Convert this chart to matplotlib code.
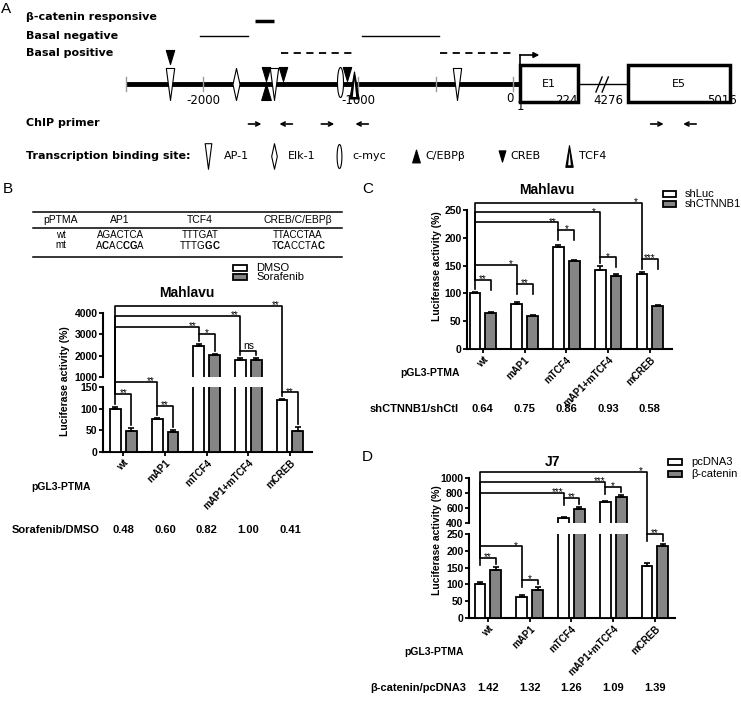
import numpy as np
import matplotlib.pyplot as plt
from matplotlib.path import Path
from matplotlib.patches import Rectangle

plt.rcParams['font.family'] = ['Liberation Sans', 'DejaVu Sans']
plt.rcParams['mathtext.fontset'] = 'custom'
plt.rcParams['mathtext.rm'] = 'Liberation Sans'
plt.rcParams['mathtext.bf'] = 'Liberation Sans:bold'

W, H = 741, 703
GREY = '#858585'

# ---------------- panel A: PTMA promoter map (bp) ----------------
promoter = (-2500, 0)
scale_ticks = [-2500, -2000, -1000, -500, 0]
scale_labels = ['-2000', '-1000']
scale_label_pos = [-2000, -1000]
beta_resp = [(-1665, -1545)]
basal_neg = [(-2020, -1710), (-975, -480)]
basal_pos = [(-1495, -1030), (-470, 0)]
# (factor, position, stacked above another site)
sites = [('AP-1', -2213, 0), ('CREB', -2213, 1), ('Elk-1', -1787, 0),
         ('CREB', -1594, 0), ('C/EBPβ', -1594, 0), ('AP-1', -1542, 0),
         ('CREB', -1484, 0), ('c-myc', -1116, 0), ('CREB', -1071, 0),
         ('TCF4', -1026, 0), ('AP-1', -361, 0)]
# exons are drawn schematically (not to scale) after the TSS
exons = [('E1', 45, 420, '1', '224'), ('E5', 745, 1400, '4276', '5016')]
primers = [(-1665, 1), (-1465, -1), (-1195, 1), (-975, -1), (930, 1), (1140, -1)]
legend_sites = ['AP-1', 'Elk-1', 'c-myc', 'C/EBPβ', 'CREB', 'TCF4']

# ---------------- panels B-D: luciferase assays ----------------
groups = ['wt', 'mAP1', 'mTCF4', 'mAP1+mTCF4', 'mCREB']

b_dmso = [100, 76, 2450, 1780, 120]
b_sora = [48, 46, 2010, 1780, 49]
b_dmso_err = [5, 2, 110, 130, 2]
b_sora_err = [7, 4, 60, 90, 8]
b_ratio = ['0.48', '0.60', '0.82', '1.00', '0.41']
b_pair_level = [134, 106, 3020, 2220, 138]
b_pair_sig = ['**', '**', '*', 'ns', '**']
b_cmp_level = [162, 3350, 3860, 4333]
b_cmp_sig = ['**', '**', '**', '**']

c_shluc = [100, 81, 184, 142, 134]
c_shct = [64, 60, 158, 132, 78]
c_shluc_err = [3, 3, 3, 7, 4]
c_shct_err = [2, 1, 2, 2, 1]
c_ratio = ['0.64', '0.75', '0.86', '0.93', '0.58']
c_pair_level = [124, 117, 214, 165, 162]
c_pair_sig = ['**', '**', '*', '*', '***']
c_cmp_level = [151, 228, 246, 263]
c_cmp_sig = ['*', '**', '*', '*']

d_pc = [100, 63, 470, 680, 155]
d_bcat = [142, 83, 592, 742, 215]
d_pc_err = [6, 5, 5, 10, 8]
d_bcat_err = [10, 8, 15, 25, 6]
d_ratio = ['1.42', '1.32', '1.26', '1.09', '1.39']
d_pair_level = [179, 113, 733, 880, 250]
d_pair_sig = ['**', '*', '**', '*', '**']
d_cmp_level = [214, 800, 947, 1080]
d_cmp_sig = ['*', '***', '***', '*']

fig = plt.figure(figsize=(W / 100, H / 100), dpi=100)

# overlay in pixel units (y down) for texts, brackets and legends
ov = fig.add_axes([0, 0, 1, 1])
ov.set_xlim(0, W)
ov.set_ylim(H, 0)
ov.axis('off')
ov.set_zorder(10)


def px_axes(x0, x1, y0, y1):
    return fig.add_axes([x0 / W, 1 - y1 / H, (x1 - x0) / W, (y1 - y0) / H])


def tri(w, up):
    v = [(-w, -0.5), (w, -0.5), (0, 0.5)] if up else [(-w, 0.5), (w, 0.5), (0, -0.5)]
    return Path(v + [v[0]], closed=True)


t = np.linspace(0, 2 * np.pi, 40)
SYM = {
    'AP-1': (tri(0.13, False), 32, 'white'),
    'Elk-1': (Path([(0, 0.5), (0.11, 0), (0, -0.5), (-0.11, 0), (0, 0.5)], closed=True), 32, 'white'),
    'c-myc': (Path(np.column_stack([0.1 * np.cos(t), 0.5 * np.sin(t)]), closed=True), 30, 'white'),
    'C/EBPβ': (tri(0.3, True), 16, 'black'),
    'CREB': (tri(0.3, False), 14, 'black'),
    'TCF4': (tri(0.17, True), 27, 'black'),
}
SITE_Y = {'AP-1': 84, 'Elk-1': 84, 'c-myc': 82, 'C/EBPβ': 92, 'CREB': 74, 'TCF4': 85}


def symbol(ax, x, y, name, scale=1.0):
    path, h, fc = SYM[name]
    ax.plot([x], [y], ls='none', marker=path, ms=h * 0.72 * scale, mfc=fc,
            mec='black', mew=0.8, zorder=4)
    if name == 'TCF4':
        ax.plot([x], [y + 3 * scale], ls='none', marker=tri(0.1, True),
                ms=h * 0.45 * scale, mfc='white', mec='none', zorder=5)


# ---------------- panel A ----------------
PX0, PPB = 513, 0.155
axA = px_axes(0, W, 0, 175)
axA.set_xlim(-PX0 / PPB, (W - PX0) / PPB)
axA.set_ylim(175, 0)
axA.axis('off')
LY = 84
axA.plot([promoter[0], exons[0][1]], [LY, LY], color='black', lw=3.5,
         solid_capstyle='butt', zorder=1)
for tk in scale_ticks:
    axA.plot([tk, tk], [LY - 7, LY + 7], color='#9a9a9a', lw=1, zorder=2)
for p, lab in zip(scale_label_pos, scale_labels):
    axA.text(p, 100, lab, ha='center', va='center', fontsize=8.5, family='DejaVu Sans')
axA.text(-20, 98, '0', ha='center', va='center', fontsize=8.5, family='DejaVu Sans')

axA.plot([exons[0][2], exons[1][1]], [LY, LY], color='black', lw=1, zorder=1)
for name, x0, x1, l0, l1 in exons:
    axA.add_patch(Rectangle((x0, 65), x1 - x0, 37, fc='white', ec='black', lw=2.5, zorder=3))
    axA.text((x0 + x1) / 2, LY, name, ha='center', va='center', fontsize=8, family='DejaVu Sans', zorder=4)
axA.text(exons[0][1], 106, exons[0][3], ha='center', va='center', fontsize=8.5, family='DejaVu Sans')
axA.text(exons[0][2], 100, exons[0][4], ha='right', va='center', fontsize=8.5, family='DejaVu Sans')
axA.text(exons[1][1] - 30, 100, exons[1][3], ha='right', va='center', fontsize=8.5, family='DejaVu Sans')
axA.text(exons[1][2] + 45, 100, exons[1][4], ha='right', va='center', fontsize=8.5, family='DejaVu Sans')
for bx in (535, 575):
    axA.plot([bx, bx + 40], [92, 77], color='black', lw=1, zorder=5)
# transcription start arrow
e1 = exons[0][1]
axA.plot([e1, e1], [65, 55], color='black', lw=1.2)
axA.annotate('', xy=(e1 + 125, 55), xytext=(e1, 55),
             arrowprops=dict(arrowstyle='-|>', lw=1.2, color='black', shrinkA=0, shrinkB=0,
                             mutation_scale=8))

for a, b in beta_resp:
    axA.plot([a, b], [21, 21], color='black', lw=2.5, solid_capstyle='butt')
for a, b in basal_neg:
    axA.plot([a, b], [36, 36], color='black', lw=1)
for a, b in basal_pos:
    axA.plot([a, b], [53, 53], color='black', lw=1.3, dashes=(4, 3))

for name, pos, row in sites:
    symbol(axA, pos, 57 if row else SITE_Y[name], name)

L = 13 / PPB
for pos, d in primers:
    axA.annotate('', xy=(pos + d * L / 2, 124), xytext=(pos - d * L / 2, 124),
                 arrowprops=dict(arrowstyle='->', lw=1.2, color='black', shrinkA=0,
                                 shrinkB=0, mutation_scale=7))

fa = dict(fontsize=8, fontweight='bold', family='DejaVu Sans', va='center')
ov.text(1, 9, 'A', fontsize=11, va='center')
ov.text(26, 17, 'β-catenin responsive', **fa)
ov.text(26, 36, 'Basal negative', **fa)
ov.text(26, 53, 'Basal positive', **fa)
ov.text(26, 123, 'ChIP primer', **fa)
ov.text(26, 156, 'Transcription binding site:', **fa)
for name, sx, tx in zip(legend_sites, [208, 274, 339, 416, 502, 569], [224, 288, 352, 425, 510, 579]):
    symbol(ov, sx, 156, name, 0.8)
    ov.text(tx, 156, name, fontsize=8, family='DejaVu Sans', va='center')

# ---------------- bar chart helpers ----------------
xg = np.arange(len(groups))
OFF, BW = 0.19, 0.26


def setup(ax, ylim, ticks, xlim, show_x):
    ax.set_xlim(*xlim)
    ax.set_ylim(*ylim)
    ax.set_yticks(ticks)
    ax.set_yticklabels([str(v) for v in ticks], fontweight='bold')
    ax.set_facecolor('none')
    for s in ('top', 'right'):
        ax.spines[s].set_visible(False)
    for s in ('left', 'bottom'):
        ax.spines[s].set_linewidth(1.5)
    ax.tick_params(width=1.3, length=3, labelsize=7.5, pad=1)
    if show_x:
        ax.set_xticks(xg)
        ax.set_xticklabels(groups, rotation=45, ha='right', rotation_mode='anchor',
                           fontweight='bold', fontsize=7)
    else:
        ax.spines['bottom'].set_visible(False)
        ax.set_xticks([])


def draw_bars(ax, a, b, ea, eb):
    ekw = dict(ecolor='black', elinewidth=1.2, capsize=2.5, capthick=1.2)
    z = np.zeros(len(a))
    ax.bar(xg - OFF, a, BW, color='white', edgecolor='black', linewidth=1.3,
           yerr=[z, ea], error_kw=ekw, zorder=3)
    ax.bar(xg + OFF, b, BW, color=GREY, edgecolor='black', linewidth=1.3,
           yerr=[z, eb], error_kw=ekw, zorder=3)


def to_px(ax, xv, yv):
    return ov.transData.inverted().transform(ax.transData.transform((xv, yv)))


def brackets(lo, hi, split, a, b, ea, eb, pl, ps, cl, cs, maxleg):
    def P(xv, yv):
        return to_px(hi if (hi is not None and yv >= split) else lo, xv, yv)

    for i in range(len(a)):
        xa, ya = P(i - OFF, pl[i])
        xb, _ = P(i + OFF, pl[i])
        ta = P(i - OFF, a[i] + ea[i])[1] - 3
        tb = P(i + OFF, b[i] + eb[i])[1] - 3
        la = ya + max(3, min(ta - ya, maxleg))
        lb = ya + max(3, min(tb - ya, maxleg))
        ov.plot([xa, xa, xb, xb], [la, ya, ya, lb], color='black', lw=1.2)
        if ps[i] == 'ns':
            ov.text((xa + xb) / 2, ya - 1.5, ps[i], ha='center', va='baseline', fontsize=7.5)
        else:
            ov.text((xa + xb) / 2, ya + 2.5, ps[i], ha='center', va='baseline', fontsize=7)
    x0, y0 = P(-OFF, pl[0])
    for j in range(1, len(a)):
        xj, yl = P(j - OFF, cl[j - 1])
        _, yj = P(j - OFF, pl[j])
        ov.plot([x0, x0, xj, xj], [y0, yl, yl, yj], color='black', lw=1.2)
        ov.text(xj - 6, yl + 2.5, cs[j - 1], ha='center', va='baseline', fontsize=7)


def legend(x, y0, dy, labels, w=14):
    for k, (lab, fc) in enumerate(zip(labels, ['white', GREY])):
        y = y0 + k * dy
        ov.add_patch(Rectangle((x, y - 3), w, 6, fc=fc, ec='black', lw=1.3))
        ov.text(x + w + 9, y, lab, fontsize=8, va='center')


def footer(ax, ycat, yratio, xlab, name, ratios):
    ov.text(xlab, ycat, 'pGL3-PTMA', ha='center', va='center', fontsize=7.5, fontweight='bold')
    ov.text(name[1], yratio, name[0], ha='left', va='center', fontsize=8, fontweight='bold')
    for i, r in enumerate(ratios):
        ov.text(to_px(ax, i, 0)[0], yratio, r, ha='center', va='center', fontsize=8,
                fontweight='bold')


# ---------------- panel B ----------------
ov.text(3, 189, 'B', fontsize=11, va='center')
cols = [61, 120, 200, 298]
for yy in (212, 228, 257):
    ov.plot([33, 342], [yy, yy], color='black', lw=1.1)
for cx, txt in zip(cols, ['pPTMA', 'AP1', 'TCF4', 'CREB/C/EBPβ']):
    ov.text(cx, 220, txt, ha='center', va='center', fontsize=7.5)
for cx, txt in zip(cols, ['wt', 'AGACTCA', 'TTTGAT', 'TTACCTAA']):
    ov.text(cx, 235, txt, ha='center', va='center', fontsize=7)
for cx, txt in zip(cols, ['mt', r'A$\mathbf{C}$AC$\mathbf{CG}$A', r'TTTG$\mathbf{GC}$',
                          r'T$\mathbf{C}$ACCTA$\mathbf{C}$']):
    ov.text(cx, 245, txt, ha='center', va='center', fontsize=7)

XL_B = (-0.49, 4.53)
bLo = px_axes(103, 312, 387, 452)
bHi = px_axes(103, 312, 313, 377)
setup(bLo, (0, 150), [0, 50, 100, 150], XL_B, True)
setup(bHi, (1000, 4000), [1000, 2000, 3000, 4000], XL_B, False)
for ax in (bLo, bHi):
    draw_bars(ax, b_dmso, b_sora, b_dmso_err, b_sora_err)
brackets(bLo, bHi, 1000, b_dmso, b_sora, b_dmso_err, b_sora_err,
         b_pair_level, b_pair_sig, b_cmp_level, b_cmp_sig, 40)
legend(233, 268, 9, ['DMSO', 'Sorafenib'])
ov.text(187, 293, 'Mahlavu', ha='center', va='center', fontsize=10, fontweight='bold')
ov.text(65, 381, 'Luciferase activity (%)', rotation=90, ha='center', va='center',
        fontsize=7.5, fontweight='bold')
footer(bLo, 487, 530, 61, ('Sorafenib/DMSO', 12), b_ratio)

# ---------------- panel C ----------------
ov.text(362, 189, 'C', fontsize=11, va='center')
cAx = px_axes(467, 672, 210, 349)
setup(cAx, (0, 250), [0, 50, 100, 150, 200, 250], (-0.38, 4.53), True)
draw_bars(cAx, c_shluc, c_shct, c_shluc_err, c_shct_err)
brackets(cAx, None, 0, c_shluc, c_shct, c_shluc_err, c_shct_err,
         c_pair_level, c_pair_sig, c_cmp_level, c_cmp_sig, 10)
legend(663, 194, 10, ['shLuc', 'shCTNNB1'], 13)
ov.text(547, 190, 'Mahlavu', ha='center', va='center', fontsize=10, fontweight='bold')
ov.text(437, 266, 'Luciferase activity (%)', rotation=90, ha='center', va='center',
        fontsize=7.5, fontweight='bold')
footer(cAx, 373, 409, 430, ('shCTNNB1/shCtl', 370), c_ratio)

# ---------------- panel D ----------------
ov.text(362, 457, 'D', fontsize=11, va='center')
XL_D = (-0.455, 4.48)
dLo = px_axes(469, 675, 534, 618)
dHi = px_axes(469, 675, 478, 523)
setup(dLo, (0, 250), [0, 50, 100, 150, 200, 250], XL_D, True)
setup(dHi, (400, 1000), [400, 600, 800, 1000], XL_D, False)
for ax in (dLo, dHi):
    draw_bars(ax, d_pc, d_bcat, d_pc_err, d_bcat_err)
brackets(dLo, dHi, 400, d_pc, d_bcat, d_pc_err, d_bcat_err,
         d_pair_level, d_pair_sig, d_cmp_level, d_cmp_sig, 7)
legend(668, 462, 12, ['pcDNA3', 'β-catenin'])
ov.text(553, 462, 'J7', ha='center', va='center', fontsize=10, fontweight='bold')
ov.text(437, 540, 'Luciferase activity (%)', rotation=90, ha='center', va='center',
        fontsize=7.5, fontweight='bold')
footer(dLo, 652, 688, 434, ('β-catenin/pcDNA3', 370), d_ratio)

fig.savefig('out.png', dpi=100)
